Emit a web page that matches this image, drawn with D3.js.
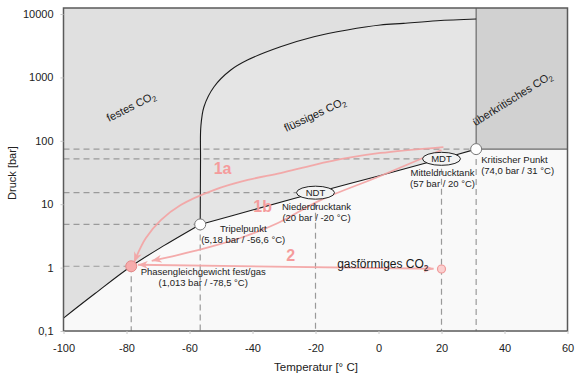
<!DOCTYPE html>
<html>
<head>
<meta charset="utf-8">
<script src="https://cdn.jsdelivr.net/npm/d3@7"></script>
<style>
body { margin: 0; background: #fff; }
svg { display: block; font-family: "Liberation Sans", Arial, sans-serif; }
</style>
</head>
<body>
<svg id="chart" width="578" height="389"></svg>
<script>
// CO2 phase diagram. Values are read off the picture (schematic, not exact physics).
var xTicks = [-100, -80, -60, -40, -20, 0, 20, 40, 60];
var yTicks = [0.1, 1, 10, 100, 1000, 10000];
var yTickLabels = ['0,1', '1', '10', '100', '1000', '10000'];

// [temperature °C, pressure bar]
var sublimation = [[-100, 0.16], [-90, 0.39], [-78.5, 1.05], [-68, 2.24], [-56.6, 4.8]];
var vaporization = [[-56.6, 4.8], [-40, 8.1], [-20, 15.2], [0, 27.9], [20, 52], [31, 74]];
var melting = [[-56.6, 4.8], [-56.5, 50], [-56.4, 167], [-55.4, 345], [-52.2, 713], [-46.9, 1309],
    [-41.6, 1880], [-31.1, 3048], [-20.5, 4385], [-9.9, 5600], [0.6, 6700], [7.9, 7130],
    [18.6, 7840], [31, 8340]];

var triple = [-56.6, 4.8];
var critical = [31, 74];
var phaseEq = [-78.5, 1.05];
var ndt = [-20, 15.2];
var mdt = [20, 52];
var gasPoint = [20, 0.95];

var arrow1a = [[20.6, 79.8], [0.6, 64.3], [-9.8, 53.6], [-20.6, 41.5], [-31.1, 31], [-41.5, 24.1],
    [-52.3, 16.7], [-62.8, 9.7], [-69.1, 5.6], [-73.9, 2.9], [-77.6, 1.22]];
var arrow1b = [[20, 71.6], [0.6, 27.9], [-18.4, 11.6], [-32.1, 5.0], [-42.7, 3.07], [-53.2, 2.14],
    [-63.8, 1.58], [-72, 1.28]];
var arrow2 = [[17.5, 0.96], [-76.4, 1.11]];

var svg = d3.select('#chart');
var mLeft = 63.5, mRight = 567.5, mTop = 8, mBottom = 331;

var x = d3.scaleLinear().domain([-100, 60]).range([mLeft, mRight]);
var y = d3.scaleLog().domain([0.1, 12450]).range([mBottom, mTop]);

var line = d3.line().x(d => x(d[0])).y(d => y(d[1])).curve(d3.curveCatmullRom.alpha(0.5));
var pink = '#f4a3a3';

// reversed curve path, joined on to a previous one
function rev(arr) { return line(arr.slice().reverse()).replace(/^M/, 'L'); }

// regions
svg.append('rect').attr('x', mLeft).attr('y', mTop)
    .attr('width', mRight - mLeft).attr('height', mBottom - mTop).attr('fill', '#f9f9f9');

var solidPath = 'M' + mLeft + ',' + mTop + 'L' + x(31) + ',' + mTop +
    rev(melting) + rev(sublimation) + 'Z';
svg.append('path').attr('d', solidPath).attr('fill', '#e0e0e0');

var liquidPath = line(melting) + 'L' + x(critical[0]) + ',' + y(critical[1]) + rev(vaporization) + 'Z';
svg.append('path').attr('d', liquidPath).attr('fill', '#e5e5e5');

svg.append('rect').attr('x', x(31)).attr('y', mTop)
    .attr('width', mRight - x(31)).attr('height', y(critical[1]) - mTop).attr('fill', '#d1d1d1');

// dashed help lines
var helpPts = [phaseEq, triple, ndt, mdt, critical];
svg.append('g').selectAll('line').data(helpPts).enter().append('line')
    .attr('x1', mLeft).attr('x2', d => x(d[0]))
    .attr('y1', d => y(d[1])).attr('y2', d => y(d[1]))
    .attr('stroke', '#9a9a9a').attr('stroke-width', 1.2).attr('stroke-dasharray', '6,4');
svg.append('g').selectAll('line').data(helpPts).enter().append('line')
    .attr('x1', d => x(d[0])).attr('x2', d => x(d[0]))
    .attr('y1', d => y(d[1])).attr('y2', mBottom)
    .attr('stroke', '#9a9a9a').attr('stroke-width', 1.2).attr('stroke-dasharray', '6,4');

// supercritical border
svg.append('path')
    .attr('d', 'M' + x(31) + ',' + mTop + 'L' + x(31) + ',' + y(critical[1]) + 'L' + mRight + ',' + y(critical[1]))
    .attr('fill', 'none').attr('stroke', '#6a6a6a').attr('stroke-width', 1.2);

// phase boundaries
[sublimation, vaporization, melting].forEach(function (c) {
    svg.append('path').attr('d', line(c)).attr('fill', 'none')
        .attr('stroke', '#1a1a1a').attr('stroke-width', 1.1);
});

// frame
svg.append('rect').attr('x', mLeft).attr('y', mTop)
    .attr('width', mRight - mLeft).attr('height', mBottom - mTop)
    .attr('fill', 'none').attr('stroke', '#5a5a5a').attr('stroke-width', 1.5);

// axes
var xAxis = svg.append('g').attr('transform', 'translate(0,' + mBottom + ')')
    .call(d3.axisBottom(x).tickValues(xTicks).tickSize(3).tickPadding(10).tickFormat(d => String(d)));
var yAxis = svg.append('g').attr('transform', 'translate(' + mLeft + ',0)')
    .call(d3.axisLeft(y).tickValues(yTicks).tickSize(3).tickPadding(7)
        .tickFormat((d, i) => yTickLabels[i]));
[xAxis, yAxis].forEach(function (a) {
    a.select('.domain').remove();
    a.selectAll('line').attr('stroke', '#c8c8c8');
    a.selectAll('text').attr('font-size', 11).attr('fill', '#222')
        .attr('font-family', '"Liberation Sans", Arial, sans-serif');
});

svg.append('text').attr('transform', 'translate(15.5,173) rotate(-90)')
    .attr('text-anchor', 'middle').attr('font-size', 11).attr('fill', '#222').text('Druck [bar]');
svg.append('text').attr('x', 316).attr('y', 370.5)
    .attr('text-anchor', 'middle').attr('font-size', 11.5).attr('fill', '#222').text('Temperatur [° C]');

// arrows
var defs = svg.append('defs');
defs.append('marker').attr('id', 'head').attr('viewBox', '0 0 10 8')
    .attr('refX', 10).attr('refY', 4).attr('markerWidth', 10).attr('markerHeight', 8)
    .attr('markerUnits', 'userSpaceOnUse').attr('orient', 'auto-start-reverse')
    .append('path').attr('d', 'M0,0L10,4L0,8L3,4Z').attr('fill', pink);

[arrow1a, arrow1b].forEach(function (a) {
    svg.append('path').attr('d', line(a)).attr('fill', 'none')
        .attr('stroke', pink).attr('stroke-width', 1.8).attr('opacity', 0.9)
        .attr('marker-end', 'url(#head)');
});
svg.append('path').attr('d', line(arrow2)).attr('fill', 'none')
    .attr('stroke', pink).attr('stroke-width', 1.8).attr('opacity', 0.9)
    .attr('marker-start', 'url(#head)').attr('marker-end', 'url(#head)');

var arrowLabels = [['1a', -49.5, 37.9], ['1b', -36.8, 9.4], ['2', -27.9, 1.58]];
svg.append('g').selectAll('text').data(arrowLabels).enter().append('text')
    .attr('x', d => x(d[1])).attr('y', d => y(d[2]) + 6)
    .attr('text-anchor', 'middle').attr('font-size', 16).attr('font-weight', 'bold')
    .attr('fill', '#f59c9c').text(d => d[0]);

// tanks
[[ndt, 'NDT'], [mdt, 'MDT']].forEach(function (t) {
    svg.append('ellipse').attr('cx', x(t[0][0])).attr('cy', y(t[0][1]))
        .attr('rx', 19).attr('ry', 6.5).attr('fill', '#f3f3f3')
        .attr('stroke', '#222').attr('stroke-width', 1);
    svg.append('text').attr('x', x(t[0][0])).attr('y', y(t[0][1]) + 3.5)
        .attr('text-anchor', 'middle').attr('font-size', 9.5).attr('fill', '#222').text(t[1]);
});

// points
[triple, critical].forEach(function (p) {
    svg.append('circle').attr('cx', x(p[0])).attr('cy', y(p[1])).attr('r', 5.5)
        .attr('fill', '#fff').attr('stroke', '#777').attr('stroke-width', 1);
});
svg.append('circle').attr('cx', x(phaseEq[0])).attr('cy', y(phaseEq[1])).attr('r', 5.5)
    .attr('fill', '#f6abab').attr('stroke', '#e58a8a').attr('stroke-width', 1);
svg.append('circle').attr('cx', x(gasPoint[0])).attr('cy', y(gasPoint[1])).attr('r', 4)
    .attr('fill', '#fbd0d0').attr('stroke', '#f09a9a').attr('stroke-width', 1.2);

// point labels
function label(lines, px, py, anchor) {
    var t = svg.append('text').attr('font-size', 9.5).attr('fill', '#222').attr('text-anchor', anchor);
    lines.forEach(function (s, i) {
        t.append('tspan').attr('x', px).attr('y', py + i * 11).text(s);
    });
}
label(['Tripelpunkt', '(5,18 bar / -56,6 °C)'], x(triple[0]) + 43, y(triple[1]) + 8, 'middle');
label(['Niederdrucktank', '(20 bar / -20 °C)'], x(ndt[0]) + 1, y(ndt[1]) + 17.5, 'middle');
label(['Mitteldrucktank', '(57 bar / 20 °C)'], x(mdt[0]) + 1, y(mdt[1]) + 17.5, 'middle');
label(['Kritischer Punkt', '(74,0 bar / 31 °C)'], x(critical[0]) + 5, y(critical[1]) + 13.5, 'start');
label(['Phasengleichgewicht fest/gas', '(1,013 bar / -78,5 °C)'], x(phaseEq[0]) + 72, y(phaseEq[1]) + 9, 'middle');

// region names
function co2(txt, px, py, angle, size, anchor) {
    var t = svg.append('text').attr('transform', 'translate(' + px + ',' + py + ') rotate(' + angle + ')')
        .attr('text-anchor', anchor).attr('font-size', size).attr('fill', '#1a1a1a');
    t.append('tspan').text(txt + 'CO');
    t.append('tspan').attr('font-size', size * 0.7).attr('dy', 2.5).text('2');
}
co2('festes ', x(-78), y(306), -27, 11, 'middle');
co2('flüssiges ', x(-19.7), y(229), -25, 11, 'middle');
co2('überkritisches ', x(43.1), y(409), -32, 11, 'middle');
co2('gasförmiges ', x(gasPoint[0]) - 13, y(gasPoint[1]) - 1, 0, 12, 'end');
</script>
</body>
</html>
